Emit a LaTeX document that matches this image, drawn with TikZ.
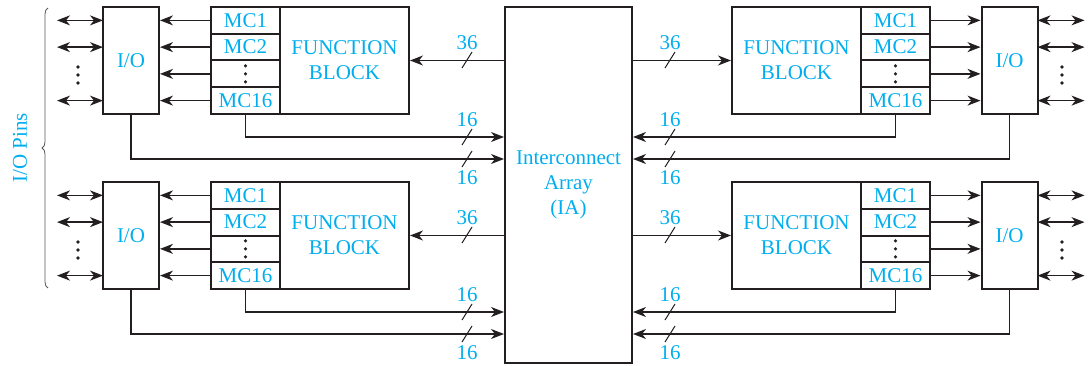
\documentclass[tikz,border=0pt]{standalone}
\usepackage{fontspec}
\setmainfont{Liberation Serif}
\usepackage{xcolor}
\definecolor{labelCyan}{HTML}{00AEEF}
\definecolor{lineDark}{HTML}{231F20}
\usetikzlibrary{arrows.meta, positioning, calc, decorations.pathreplacing}
\tikzset{
    % Base style for all boxes
    box/.style={
        draw=lineDark,
        line width=2pt,
        inner sep=0pt,
        outer sep=0pt,
        align=center,
        text=labelCyan,
        font=\fontsize{21}{25}\selectfont,
    },
    % I/O blocks
    iobox/.style={box, minimum width=56pt, minimum height=107pt},
    % Macrocells
    mcbox/.style={box, minimum width=69pt, minimum height=26.75pt},
    % Function blocks
    fbbox/.style={box, minimum width=129pt, minimum height=107pt},
    % Connector with one head
    arrow/.style={
        -{Stealth[length=13pt, width=10pt, inset=4pt]},
        line width=1.3pt,
        draw=lineDark,
        shorten >=1pt,
    },
    % Pin connector with two heads
    pinarrow/.style={
        {Stealth[length=13pt, width=10pt, inset=4pt]}-{Stealth[length=13pt, width=10pt, inset=4pt]},
        line width=1.3pt,
        draw=lineDark,
        shorten >=1pt,
    },
    % Bus width labels
    buslabel/.style={
        text=labelCyan,
        inner sep=0pt,
        font=\fontsize{21}{24}\selectfont,
    },
    % Bus slash mark
    slash/.pic={\draw[line width=1pt, lineDark] (-5,8) -- (5,-8);},
    % Three vertical dots
    dotcol/.pic={\foreach \k in {-8,0,8} \fill[lineDark] (0,\k) circle (1.8);},
}

\begin{document}
\begin{tikzpicture}[x=1pt, y=-1pt]
    \useasboundingbox (0,0) rectangle (1089,366);

    \node (IA) [box, minimum width=127pt, minimum height=356pt] at (568.5,185) {Interconnect\\Array\\(IA)};

    \foreach \r/\dy in {a/0, b/175} {
        % left side
        \node (ioL\r) [iobox] at (131,{60.5+\dy}) {I/O};
        \node (fbL\r) [fbbox] at (344.5,{60.5+\dy}) {FUNCTION\\BLOCK};
        \foreach \i/\t in {1/MC1, 2/MC2, 3/{}, 4/MC16} {
            \node (mcL\r\i) [mcbox] at (245.5,{7+26.75*(\i-0.5)+\dy}) {\t};
            \draw [arrow] (mcL\r\i.west) -- (ioL\r.east |- mcL\r\i.west);
        }
        \pic at (mcL\r3.center) {dotcol};
        \foreach \i in {1,2,4}
            \draw [pinarrow] (ioL\r.west |- mcL\r\i.west) -- ++(-47,0);
        \pic at (78,{75+\dy}) {dotcol};

        \draw [arrow] (IA.west |- fbL\r.east) -- (fbL\r.east);
        \draw [arrow] (mcL\r4.south) |- ($(IA.west |- mcL\r4.south)+(0,23)$);
        \draw [arrow] (ioL\r.south) |- ($(IA.west |- ioL\r.south)+(0,45)$);
        \pic at (467,{60+\dy}) {slash};
        \pic at (467,{137+\dy}) {slash};
        \pic at (467,{159+\dy}) {slash};
        \node (wL\r1) [buslabel] at (467,{43+\dy}) {36};
        \node (wL\r2) [buslabel] at (467,{120+\dy}) {16};
        \node (wL\r3) [buslabel] at (467,{178+\dy}) {16};

        % right side
        \node (fbR\r) [fbbox] at (796.5,{60.5+\dy}) {FUNCTION\\BLOCK};
        \node (ioR\r) [iobox] at (1009.5,{60.5+\dy}) {I/O};
        \foreach \i/\t in {1/MC1, 2/MC2, 3/{}, 4/MC16} {
            \node (mcR\r\i) [mcbox] at (895.5,{7+26.75*(\i-0.5)+\dy}) {\t};
            \draw [arrow] (mcR\r\i.east) -- (ioR\r.west |- mcR\r\i.east);
        }
        \pic at (mcR\r3.center) {dotcol};
        \foreach \i in {1,2,4}
            \draw [pinarrow] (ioR\r.east |- mcR\r\i.east) -- ++(48,0);
        \pic at (1062,{75+\dy}) {dotcol};

        \draw [arrow] (IA.east |- fbR\r.west) -- (fbR\r.west);
        \draw [arrow] (mcR\r4.south) |- ($(IA.east |- mcR\r4.south)+(0,23)$);
        \draw [arrow] (ioR\r.south) |- ($(IA.east |- ioR\r.south)+(0,45)$);
        \pic at (670,{60+\dy}) {slash};
        \pic at (670,{137+\dy}) {slash};
        \pic at (670,{159+\dy}) {slash};
        \node (wR\r1) [buslabel] at (670,{43+\dy}) {36};
        \node (wR\r2) [buslabel] at (670,{120+\dy}) {16};
        \node (wR\r3) [buslabel] at (670,{178+\dy}) {16};
    }

    % pin brace
    \draw [lineDark!75, line width=0.8pt, decorate, decoration={brace, amplitude=6pt}] (48,288) -- (48,8);
    \node (pins) [buslabel, rotate=90] at (20,148) {I/O Pins};
\end{tikzpicture}
\end{document}
